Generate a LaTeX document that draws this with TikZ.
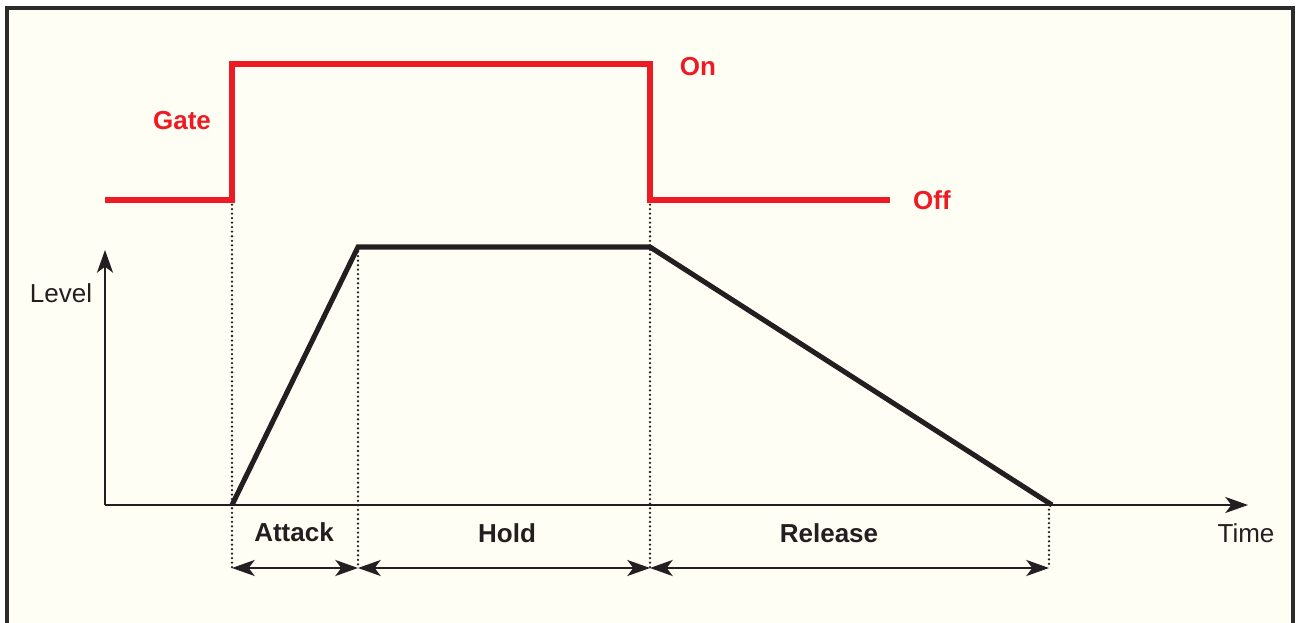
\documentclass[tikz,border=0pt]{standalone}
\usepackage{fontspec}
\setmainfont{Liberation Sans}
\usetikzlibrary{arrows.meta}
\definecolor{gatered}{HTML}{ED1C24}
\definecolor{ink}{HTML}{231F20}
\definecolor{paper}{HTML}{FEFEF5}
\definecolor{frame}{HTML}{2B2B2B}
\tikzset{
  gateline/.style={draw=gatered, line width=3.8pt, line join=miter},
  envline/.style={draw=ink, line width=3.8pt, line join=miter},
  axisline/.style={draw=ink, line width=1.9pt, -{Stealth[length=17pt,width=12pt,inset=4.5pt]}},
  dimline/.style={draw=ink, line width=1.9pt, {Stealth[length=17pt,width=12pt,inset=4.5pt]}-{Stealth[length=17pt,width=12pt,inset=4.5pt]}},
  guide/.style={draw=ink, line width=1.9pt, line cap=round, dash pattern=on 0pt off 3.4pt},
  redlabel/.style={text=gatered, font=\fontsize{19.5}{22}\selectfont\bfseries, inner sep=0pt},
  blacklabel/.style={text=ink, font=\fontsize{19.5}{22}\selectfont\bfseries, inner sep=0pt},
  axislabel/.style={text=ink, font=\fontsize{19.5}{22}\selectfont, inner sep=0pt},
}
\begin{document}
\begin{tikzpicture}[x=0.75pt,y=-0.75pt]
\useasboundingbox (0,0) rectangle (1297,623);
\clip (0,0) rectangle (1297,623);
\fill[white] (0,0) rectangle (1297,623);
\draw[fill=paper, draw=frame, line width=2.4pt] (7,8) rectangle (1293,640);
% key points
\coordinate (g0) at (105,200);
\coordinate (g1) at (232,200);
\coordinate (g2) at (232,64);
\coordinate (g3) at (650,64);
\coordinate (g4) at (650,200);
\coordinate (g5) at (890,200);
\coordinate (o) at (105,505);
\coordinate (ytip) at (105,250);
\coordinate (xtip) at (1248,505);
\coordinate (e0) at (232,505);
\coordinate (e1) at (358,247);
\coordinate (e2) at (650,247);
\coordinate (e3) at (1052,505);
\coordinate (d0) at (232,568);
\coordinate (d1) at (358,568);
\coordinate (d2) at (650,568);
\coordinate (d3) at (1049,568);
\coordinate (d3top) at (1049,505);
% dotted guides
\draw[guide] (g1) -- (d0);
\draw[guide] (e1) -- (d1);
\draw[guide] (g4) -- (d2);
\draw[guide] (d3top) -- (d3);
% gate
\draw[gateline] (g0) -- (g1) -- (g2) -- (g3) -- (g4) -- (g5);
% axes
\draw[axisline] (o) -- (ytip);
\draw[axisline] (o) -- (xtip);
% envelope
\draw[envline] (e0) -- (e1) -- (e2) -- (e3);
% dimension arrows
\draw[dimline] (d0) -- (d1);
\draw[dimline] (d1) -- (d2);
\draw[dimline] (d2) -- (d3);
% labels
\node[redlabel] (gate) at (182,121) {Gate};
\node[redlabel] (on) at (698,67) {On};
\node[redlabel] (off) at (932,200) {Off};
\node[axislabel] (level) at (61,293) {Level};
\node[axislabel] (time) at (1246,533) {Time};
\node[blacklabel] (attack) at (294,532) {Attack};
\node[blacklabel] (hold) at (507,533) {Hold};
\node[blacklabel] (release) at (829,533) {Release};
\end{tikzpicture}
\end{document}
